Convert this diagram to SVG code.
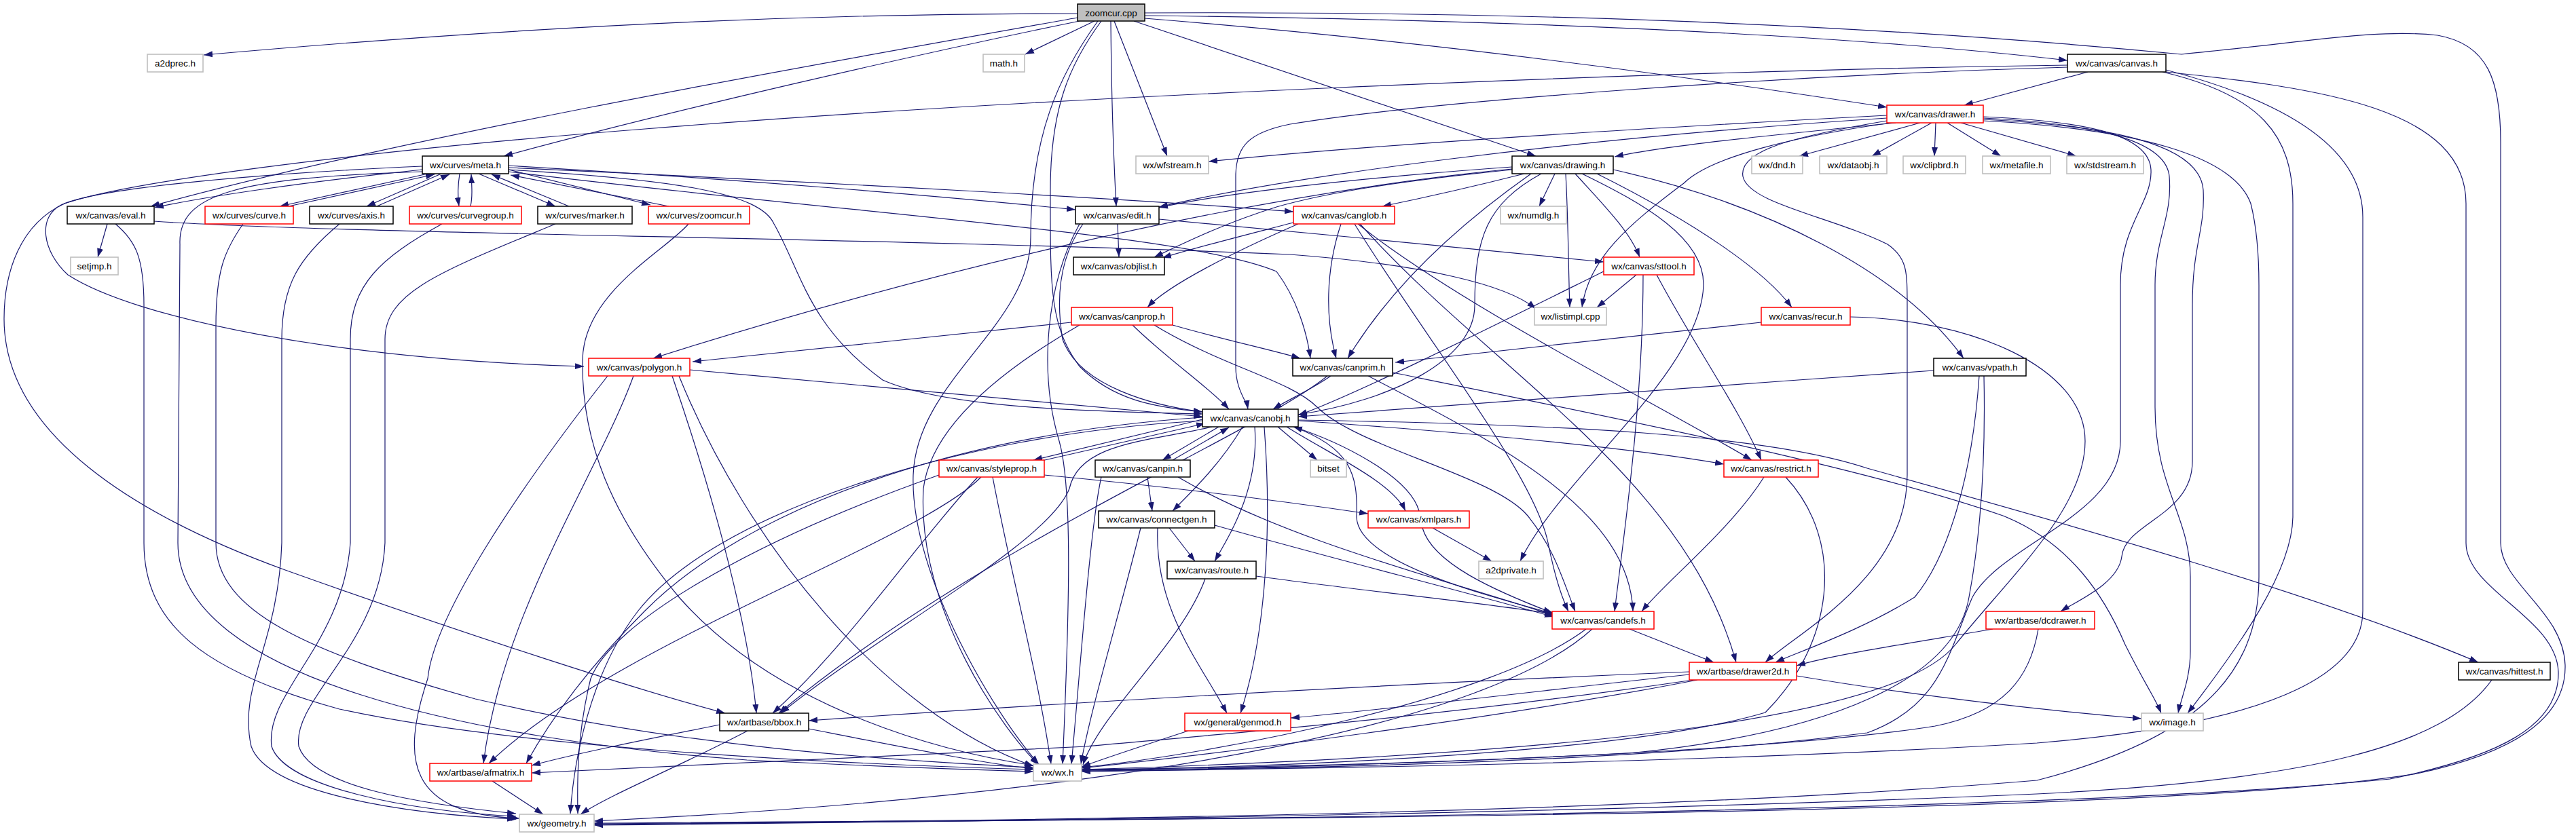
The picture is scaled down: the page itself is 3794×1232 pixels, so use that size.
<svg xmlns="http://www.w3.org/2000/svg" width="3794" height="1232" viewBox="0 0 3794 1232">
<style>
.n rect{fill:#fff;stroke:#000;stroke-width:1.5}
.nr rect{stroke:#ff0000}
.ng rect{stroke:#bfbfbf;stroke-width:1.6}
.n0 rect{fill:#bfbfbf}
.n text{font-family:"Liberation Sans",Arial,Helvetica,sans-serif;font-size:13.5px;text-anchor:middle;fill:#000}
#edges path{fill:none;stroke:#191970;stroke-width:1.2;marker-end:url(#a)}
</style>
<defs>
<marker id="a" markerUnits="userSpaceOnUse" markerWidth="14" markerHeight="10" refX="13" refY="5" orient="auto"><path d="M0,0.5 L13,5 L0,9.5 z" fill="#191970"/></marker>
</defs>
<rect width="3794" height="1232" fill="#fff"/>
<g id="edges">
<path d="M1587,20 C1250,20 850,32 300,81"/>
<path d="M1612,31 L1510,80"/>
<path d="M1686,23 C2300,30 2750,55 3045,89"/>
<path d="M1686,27 C2100,60 2500,115 2779,158"/>
<path d="M1590,31 C1350,80 1000,160 742,230"/>
<path d="M1587,26 C1200,95 600,200 222,304"/>
<path d="M1636,31 C1637,150 1641,250 1644,304"/>
<path d="M1641,31 L1719,230"/>
<path d="M1670,31 L2262,230"/>
<path d="M1622,31 C1575,95 1547,160 1547,280 C1547,420 1545,480 1590,540 C1640,590 1700,600 1771,607"/>
<path d="M1617,31 C1560,110 1518,200 1518,350 C1518,480 1350,560 1345,700 C1340,850 1470,1060 1530,1126"/>
<path d="M1686,19 C2300,16 2800,40 3213,80 C3400,62 3500,42 3590,52 C3665,65 3683,120 3683,210 L3683,800 C3683,860 3775,900 3778,980 C3780,1060 3700,1110 3560,1140 C3200,1200 2000,1206 875,1213"/>
<path d="M3075,106 L2893,155"/>
<path d="M3045,99 C2600,112 2100,150 1900,183 C1840,195 1820,215 1820,260 L1820,540 C1820,575 1836,590 1838,603"/>
<path d="M3045,96 C2400,105 1500,145 950,190 C500,225 180,270 95,300 C30,330 6,400 6,470 C6,640 200,760 420,840 C700,940 950,1020 1068,1051"/>
<path d="M3185,106 C3330,140 3377,200 3377,300 L3377,760 C3377,840 3300,950 3222,1051"/>
<path d="M3190,103 C3370,150 3480,220 3480,320 L3480,900 C3480,1010 3300,1070 3000,1095 C2500,1125 1900,1133 1593,1137"/>
<path d="M3190,106 C3420,130 3632,160 3632,300 L3632,800 C3632,870 3765,910 3768,990 C3770,1070 3680,1115 3520,1148 C3000,1200 1800,1206 875,1215"/>
<path d="M2779,170 C2400,190 2000,215 1780,238"/>
<path d="M2792,181 C2600,200 2450,215 2378,231"/>
<path d="M2828,181 L2650,230"/>
<path d="M2845,181 L2757,230"/>
<path d="M2851,181 L2849,230"/>
<path d="M2868,181 L2947,230"/>
<path d="M2888,181 L3058,230"/>
<path d="M2779,174 C2300,205 1900,260 1707,305"/>
<path d="M2785,181 C2650,200 2520,230 2480,270 C2400,330 2340,380 2330,453"/>
<path d="M2779,178 C2650,200 2560,220 2567,260 C2575,300 2700,320 2780,360 C2809,380 2809,400 2809,450 L2809,700 C2809,850 2650,930 2600,976"/>
<path d="M2921,172 C3060,178 3165,195 3168,250 C3170,300 3123,330 3123,420 L3123,650 C3123,760 2950,800 2905,880 C2870,960 2860,1040 2750,1080 C2400,1125 1900,1133 1593,1135"/>
<path d="M2921,174 C3080,182 3190,205 3195,260 C3200,320 3174,350 3174,420 L3174,600 C3174,720 3226,760 3226,850 L3226,960 C3226,1000 3212,1030 3208,1051"/>
<path d="M2921,176 C3100,185 3240,210 3245,280 C3248,340 3229,360 3229,450 L3229,680 C3229,760 3130,770 3125,820 C3120,860 3060,885 3035,901"/>
<path d="M2921,178 C3150,190 3290,230 3315,300 C3325,340 3327,380 3327,420 L3327,850 C3327,1000 3230,1090 3000,1150 C2400,1200 1500,1210 875,1214"/>
<path d="M622,250 C450,268 300,290 228,306"/>
<path d="M630,256 L412,304"/>
<path d="M425,304 L640,257"/>
<path d="M650,256 L540,304"/>
<path d="M555,304 L662,257"/>
<path d="M677,256 C674,275 674,290 676,304"/>
<path d="M693,304 C696,290 695,275 694,257"/>
<path d="M705,256 L818,304"/>
<path d="M838,304 L724,257"/>
<path d="M749,250 L958,302"/>
<path d="M985,304 L752,258"/>
<path d="M749,244 C1100,265 1400,290 1584,309"/>
<path d="M749,247 C1200,268 1700,295 1905,312"/>
<path d="M749,250 C1000,265 1120,285 1140,330 C1180,400 1190,480 1300,560 C1400,605 1650,607 1771,610"/>
<path d="M749,253 C1300,320 1750,345 1880,400 C1910,440 1925,490 1930,528"/>
<path d="M622,245 C400,255 150,275 90,302 C55,320 62,370 100,405 C200,470 500,530 860,540"/>
<path d="M622,253 C350,262 262,285 265,360 L262,800 C262,1000 700,1090 1100,1120 C1300,1130 1450,1135 1522,1137"/>
<path d="M158,330 L144,379"/>
<path d="M170,330 C200,355 212,380 212,450 L212,800 C212,920 300,990 500,1045 C750,1100 1200,1125 1522,1134"/>
<path d="M227,326 C500,345 1300,350 1900,375 C2100,390 2220,420 2262,455"/>
<path d="M358,330 C330,370 318,400 318,480 L318,800 C318,900 450,960 700,1030 C1000,1100 1300,1120 1522,1131"/>
<path d="M500,330 C440,380 415,420 415,500 L415,800 C410,950 350,1010 370,1100 C395,1170 600,1200 760,1207"/>
<path d="M651,330 C560,380 516,420 516,500 L516,800 C505,950 390,1020 400,1100 C420,1160 600,1195 760,1203"/>
<path d="M818,330 C650,400 567,430 567,500 L567,800 C560,950 430,1030 440,1100 C460,1160 620,1185 760,1199"/>
<path d="M1014,330 C980,370 860,430 858,530 C856,650 900,760 1000,880 C1150,1050 1400,1110 1522,1128"/>
<path d="M1646,330 L1648,379"/>
<path d="M1707,323 C1900,340 2200,370 2362,386"/>
<path d="M1595,330 C1560,380 1555,440 1565,500 C1590,570 1700,598 1771,607"/>
<path d="M1590,330 C1540,420 1530,550 1560,650 C1580,720 1575,900 1565,1126"/>
<path d="M1905,328 C1820,350 1760,365 1712,380"/>
<path d="M1912,330 C1820,370 1720,420 1690,453"/>
<path d="M1975,330 C1952,400 1952,470 1968,528"/>
<path d="M2000,330 C2150,450 2450,600 2580,678"/>
<path d="M1995,330 C2100,500 2260,700 2280,800 C2290,850 2300,880 2310,901"/>
<path d="M2003,330 C2200,550 2480,700 2557,976"/>
<path d="M2290,256 L2267,304"/>
<path d="M2227,246 C2000,262 1800,285 1707,306"/>
<path d="M2245,256 C2150,280 2080,295 2036,304"/>
<path d="M2227,250 C2050,268 1950,285 1880,305 C1800,330 1740,360 1700,379"/>
<path d="M2306,256 C2310,330 2310,400 2312,453"/>
<path d="M2320,256 C2360,300 2400,340 2415,379"/>
<path d="M2352,256 C2500,330 2600,400 2639,453"/>
<path d="M2376,250 C2600,300 2800,400 2892,528"/>
<path d="M2270,256 C2190,300 2172,350 2172,450 C2172,530 2050,590 1912,611"/>
<path d="M2255,256 C2150,330 2050,420 1985,528"/>
<path d="M2227,249 C1800,290 1300,420 962,528"/>
<path d="M2330,256 C2420,300 2510,350 2509,420 C2505,550 2300,700 2239,827"/>
<path d="M2410,405 L2352,453"/>
<path d="M2440,405 C2490,500 2560,600 2594,678"/>
<path d="M2362,400 C2200,480 2000,580 1912,612"/>
<path d="M2420,405 C2420,600 2390,800 2378,901"/>
<path d="M1578,475 L1020,533"/>
<path d="M1727,479 C1800,500 1870,515 1915,528"/>
<path d="M1668,479 C1720,530 1780,570 1810,603"/>
<path d="M1700,479 C1800,540 1900,560 1940,600 C2000,660 2200,700 2250,760 C2290,810 2300,850 2320,901"/>
<path d="M1590,479 C1450,560 1370,640 1360,720 C1350,900 1480,1080 1530,1127"/>
<path d="M2594,475 L2055,534"/>
<path d="M2725,467 C2900,470 3071,540 3071,650 C3071,750 2960,850 2880,950 C2800,1050 2400,1110 1593,1134"/>
<path d="M1016,545 C1300,570 1600,600 1771,614"/>
<path d="M990,554 C1040,700 1100,900 1114,1051"/>
<path d="M933,554 C880,700 740,900 712,1125"/>
<path d="M895,554 C780,700 640,900 630,1000 C590,1120 600,1200 765,1206"/>
<path d="M1000,554 C1100,800 1300,1050 1522,1129"/>
<path d="M1960,554 C1930,575 1895,590 1875,603"/>
<path d="M2051,549 C2400,620 2750,690 2950,760 C3050,800 3100,880 3130,950 C3160,1010 3175,1030 3183,1051"/>
<path d="M2015,554 C2200,650 2400,750 2405,901"/>
<path d="M1955,554 C1850,640 1450,800 1147,1051"/>
<path d="M2848,546 C2500,570 2100,600 1912,614"/>
<path d="M2915,554 C2905,700 2870,820 2820,880 C2740,930 2650,960 2615,976"/>
<path d="M2922,554 C2925,700 2915,800 2900,880 C2880,1000 2700,1080 2400,1110 C2000,1130 1700,1135 1593,1136"/>
<path d="M1771,618 L1522,678"/>
<path d="M1530,680 L1775,624"/>
<path d="M1795,629 L1712,678"/>
<path d="M1727,678 L1810,630"/>
<path d="M1882,629 L1940,678"/>
<path d="M1912,620 C2200,640 2400,660 2539,684"/>
<path d="M1830,629 C1800,680 1760,720 1727,753"/>
<path d="M1895,629 C1960,670 2050,710 2070,753"/>
<path d="M2090,753 C2075,700 1970,650 1905,629"/>
<path d="M1848,629 C1855,720 1810,790 1789,827"/>
<path d="M1905,629 C1990,660 2000,700 1998,760 C1996,830 2200,880 2290,905"/>
<path d="M1862,629 C1875,800 1860,950 1827,1051"/>
<path d="M1785,629 C1700,650 1590,650 1575,720 C1545,800 1300,930 1150,1051"/>
<path d="M1771,615 C1400,640 1100,750 950,900 C850,1000 800,1080 775,1125"/>
<path d="M1771,620 C1400,640 1050,760 940,900 C870,990 845,1120 840,1199"/>
<path d="M1912,619 C2300,625 2600,640 2750,690 C3000,760 3400,870 3650,976"/>
<path d="M1538,700 C1750,720 1900,740 2015,757"/>
<path d="M1440,703 C1350,800 1250,950 1138,1051"/>
<path d="M1445,703 C1350,800 900,950 720,1125"/>
<path d="M1462,703 C1490,850 1530,1000 1548,1126"/>
<path d="M1383,700 C1100,800 900,920 870,1000 C850,1080 850,1150 851,1199"/>
<path d="M1690,703 L1697,753"/>
<path d="M1735,703 C1900,800 2150,860 2288,907"/>
<path d="M1622,703 C1605,780 1590,1000 1578,1126"/>
<path d="M1722,778 L1760,827"/>
<path d="M1789,774 C1950,820 2150,870 2288,909"/>
<path d="M1705,778 C1700,900 1770,980 1807,1051"/>
<path d="M1680,778 C1650,900 1605,1050 1592,1126"/>
<path d="M2110,778 L2197,827"/>
<path d="M2095,778 C2110,830 2200,870 2286,903"/>
<path d="M1850,849 C2000,870 2200,890 2288,905"/>
<path d="M1775,853 C1740,950 1620,1050 1595,1127"/>
<path d="M2598,703 C2550,780 2450,860 2418,901"/>
<path d="M2630,703 C2720,800 2700,950 2600,1050 C2400,1110 1900,1130 1593,1135"/>
<path d="M2400,927 L2524,976"/>
<path d="M2336,927 C2200,1030 1800,1110 1593,1131"/>
<path d="M2345,927 C2200,1060 1700,1170 875,1210"/>
<path d="M2935,927 C2800,950 2700,965 2646,981"/>
<path d="M3002,927 C2990,1000 2950,1050 2850,1070 C2600,1110 2000,1130 1593,1134"/>
<path d="M2488,990 C2000,1010 1500,1040 1191,1062"/>
<path d="M2646,996 C2850,1030 3050,1050 3154,1059"/>
<path d="M2494,1002 C2100,1060 1700,1090 1600,1100 C1300,1115 950,1130 783,1139"/>
<path d="M2500,1002 C2200,1060 1800,1110 1593,1132"/>
<path d="M2488,994 C2250,1020 2050,1045 1901,1058"/>
<path d="M3670,1002 C3600,1100 3400,1150 3000,1170 C2300,1200 1500,1210 875,1216"/>
<path d="M1060,1068 C950,1090 850,1110 783,1128"/>
<path d="M1191,1074 C1350,1105 1450,1125 1522,1133"/>
<path d="M1101,1077 C1000,1130 900,1170 855,1200"/>
<path d="M1750,1077 C1680,1100 1620,1120 1593,1130"/>
<path d="M725,1151 L800,1200"/>
</g>
<g id="zoomcur_cpp" class="n n0"><rect x="1587" y="6" width="99" height="25"/><text x="1636.5" y="23.5">zoomcur.cpp</text></g>
<g id="a2dprec_h" class="n ng"><rect x="217" y="80" width="82" height="26"/><text x="258" y="97.7">a2dprec.h</text></g>
<g id="math_h" class="n ng"><rect x="1448" y="80" width="61" height="26"/><text x="1478.5" y="97.7">math.h</text></g>
<g id="canvas_h" class="n"><rect x="3045" y="80" width="145" height="26"/><text x="3117.5" y="97.7">wx/canvas/canvas.h</text></g>
<g id="drawer_h" class="n nr"><rect x="2779" y="155" width="142" height="26"/><text x="2850" y="172.7">wx/canvas/drawer.h</text></g>
<g id="meta_h" class="n"><rect x="622" y="230" width="127" height="26"/><text x="685.5" y="247.7">wx/curves/meta.h</text></g>
<g id="wfstream_h" class="n ng"><rect x="1673" y="230" width="107" height="26"/><text x="1726.5" y="247.7">wx/wfstream.h</text></g>
<g id="drawing_h" class="n"><rect x="2227" y="230" width="149" height="26"/><text x="2301.5" y="247.7">wx/canvas/drawing.h</text></g>
<g id="dnd_h" class="n ng"><rect x="2580" y="230" width="75" height="26"/><text x="2617.5" y="247.7">wx/dnd.h</text></g>
<g id="dataobj_h" class="n ng"><rect x="2680" y="230" width="99" height="26"/><text x="2729.5" y="247.7">wx/dataobj.h</text></g>
<g id="clipbrd_h" class="n ng"><rect x="2803" y="230" width="92" height="26"/><text x="2849" y="247.7">wx/clipbrd.h</text></g>
<g id="metafile_h" class="n ng"><rect x="2920" y="230" width="100" height="26"/><text x="2970" y="247.7">wx/metafile.h</text></g>
<g id="stdstream_h" class="n ng"><rect x="3044" y="230" width="113" height="26"/><text x="3100.5" y="247.7">wx/stdstream.h</text></g>
<g id="eval_h" class="n"><rect x="99" y="304" width="128" height="26"/><text x="163" y="321.7">wx/canvas/eval.h</text></g>
<g id="curve_h" class="n nr"><rect x="302" y="304" width="130" height="26"/><text x="367" y="321.7">wx/curves/curve.h</text></g>
<g id="axis_h" class="n"><rect x="456" y="304" width="123" height="26"/><text x="517.5" y="321.7">wx/curves/axis.h</text></g>
<g id="curvegroup_h" class="n nr"><rect x="603" y="304" width="165" height="26"/><text x="685.5" y="321.7">wx/curves/curvegroup.h</text></g>
<g id="marker_h" class="n"><rect x="792" y="304" width="139" height="26"/><text x="861.5" y="321.7">wx/curves/marker.h</text></g>
<g id="zoomcur_h" class="n nr"><rect x="955" y="304" width="149" height="26"/><text x="1029.5" y="321.7">wx/curves/zoomcur.h</text></g>
<g id="edit_h" class="n"><rect x="1584" y="304" width="123" height="26"/><text x="1645.5" y="321.7">wx/canvas/edit.h</text></g>
<g id="canglob_h" class="n nr"><rect x="1905" y="304" width="149" height="26"/><text x="1979.5" y="321.7">wx/canvas/canglob.h</text></g>
<g id="numdlg_h" class="n ng"><rect x="2210" y="304" width="97" height="26"/><text x="2258.5" y="321.7">wx/numdlg.h</text></g>
<g id="setjmp_h" class="n ng"><rect x="104" y="379" width="70" height="26"/><text x="139" y="396.7">setjmp.h</text></g>
<g id="objlist_h" class="n"><rect x="1581" y="379" width="134" height="26"/><text x="1648" y="396.7">wx/canvas/objlist.h</text></g>
<g id="sttool_h" class="n nr"><rect x="2362" y="379" width="133" height="26"/><text x="2428.5" y="396.7">wx/canvas/sttool.h</text></g>
<g id="canprop_h" class="n nr"><rect x="1578" y="453" width="149" height="26"/><text x="1652.5" y="470.7">wx/canvas/canprop.h</text></g>
<g id="listimpl_cpp" class="n ng"><rect x="2260" y="453" width="106" height="26"/><text x="2313" y="470.7">wx/listimpl.cpp</text></g>
<g id="recur_h" class="n nr"><rect x="2594" y="453" width="131" height="26"/><text x="2659.5" y="470.7">wx/canvas/recur.h</text></g>
<g id="polygon_h" class="n nr"><rect x="867" y="528" width="149" height="26"/><text x="941.5" y="545.7">wx/canvas/polygon.h</text></g>
<g id="canprim_h" class="n"><rect x="1904" y="528" width="147" height="26"/><text x="1977.5" y="545.7">wx/canvas/canprim.h</text></g>
<g id="vpath_h" class="n"><rect x="2848" y="528" width="136" height="26"/><text x="2916" y="545.7">wx/canvas/vpath.h</text></g>
<g id="canobj_h" class="n"><rect x="1771" y="603" width="141" height="26"/><text x="1841.5" y="620.7">wx/canvas/canobj.h</text></g>
<g id="styleprop_h" class="n nr"><rect x="1383" y="678" width="155" height="25"/><text x="1460.5" y="695.2">wx/canvas/styleprop.h</text></g>
<g id="canpin_h" class="n"><rect x="1613" y="678" width="140" height="25"/><text x="1683" y="695.2">wx/canvas/canpin.h</text></g>
<g id="bitset" class="n ng"><rect x="1930" y="678" width="53" height="25"/><text x="1956.5" y="695.2">bitset</text></g>
<g id="restrict_h" class="n nr"><rect x="2539" y="678" width="139" height="25"/><text x="2608.5" y="695.2">wx/canvas/restrict.h</text></g>
<g id="connectgen_h" class="n"><rect x="1618" y="753" width="171" height="25"/><text x="1703.5" y="770.2">wx/canvas/connectgen.h</text></g>
<g id="xmlpars_h" class="n nr"><rect x="2015" y="753" width="149" height="25"/><text x="2089.5" y="770.2">wx/canvas/xmlpars.h</text></g>
<g id="route_h" class="n"><rect x="1719" y="827" width="131" height="26"/><text x="1784.5" y="844.7">wx/canvas/route.h</text></g>
<g id="a2dprivate_h" class="n ng"><rect x="2178" y="827" width="95" height="26"/><text x="2225.5" y="844.7">a2dprivate.h</text></g>
<g id="candefs_h" class="n nr"><rect x="2286" y="901" width="150" height="26"/><text x="2361" y="918.7">wx/canvas/candefs.h</text></g>
<g id="dcdrawer_h" class="n nr"><rect x="2925" y="901" width="160" height="26"/><text x="3005" y="918.7">wx/artbase/dcdrawer.h</text></g>
<g id="drawer2d_h" class="n nr"><rect x="2488" y="976" width="158" height="26"/><text x="2567" y="993.7">wx/artbase/drawer2d.h</text></g>
<g id="hittest_h" class="n"><rect x="3621" y="976" width="135" height="26"/><text x="3688.5" y="993.7">wx/canvas/hittest.h</text></g>
<g id="bbox_h" class="n"><rect x="1060" y="1051" width="131" height="26"/><text x="1125.5" y="1068.7">wx/artbase/bbox.h</text></g>
<g id="genmod_h" class="n nr"><rect x="1745" y="1051" width="156" height="26"/><text x="1823" y="1068.7">wx/general/genmod.h</text></g>
<g id="image_h" class="n ng"><rect x="3154" y="1051" width="91" height="26"/><text x="3199.5" y="1068.7">wx/image.h</text></g>
<g id="afmatrix_h" class="n nr"><rect x="633" y="1125" width="150" height="26"/><text x="708" y="1142.7">wx/artbase/afmatrix.h</text></g>
<g id="wx_h" class="n ng"><rect x="1522" y="1126" width="71" height="25"/><text x="1557.5" y="1143.2">wx/wx.h</text></g>
<g id="geometry_h" class="n ng"><rect x="765" y="1200" width="110" height="26"/><text x="820" y="1217.7">wx/geometry.h</text></g>
</svg>
